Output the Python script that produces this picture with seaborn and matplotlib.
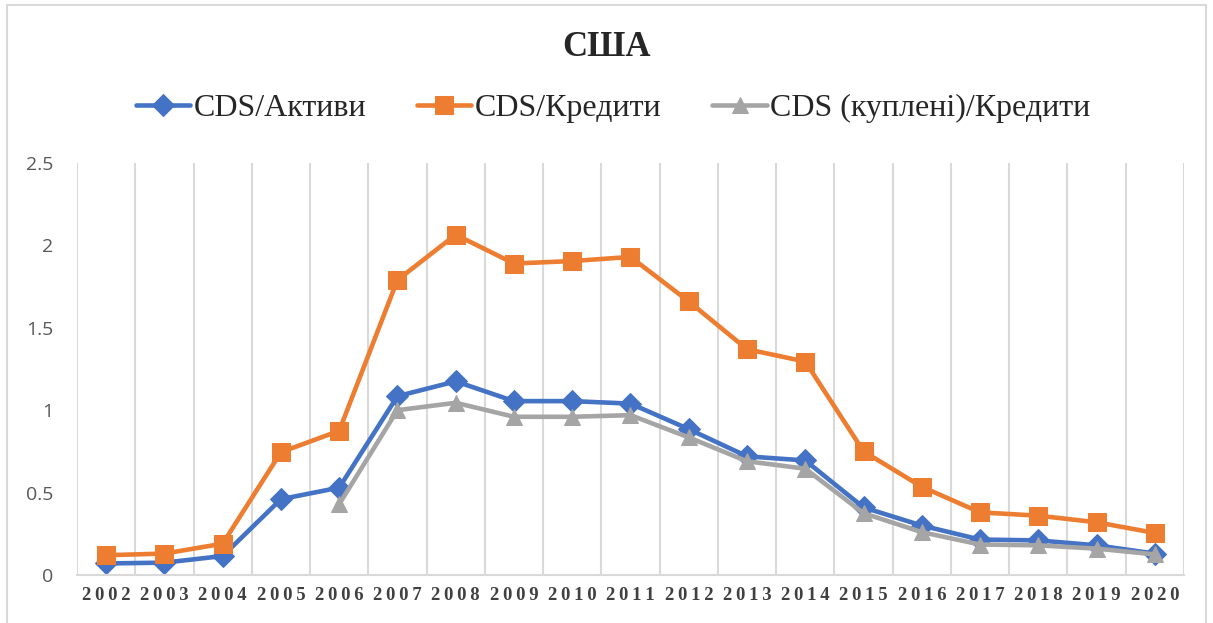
import matplotlib.pyplot as plt
import matplotlib.patches as mpatches
import numpy as np
import pandas as pd
import seaborn as sns

# Data
years = list(range(2002, 2021))
cds_assets = [0.07, 0.075, 0.115, 0.46, 0.53, 1.085, 1.175, 1.055, 1.055, 1.04,
              0.885, 0.72, 0.695, 0.41, 0.30, 0.215, 0.21, 0.18, 0.13]
cds_loans = [0.12, 0.13, 0.19, 0.745, 0.875, 1.79, 2.065, 1.89, 1.905, 1.93,
             1.66, 1.37, 1.295, 0.75, 0.535, 0.38, 0.36, 0.32, 0.255]
cds_bought_loans = [np.nan, np.nan, np.nan, np.nan, 0.43, 1.0, 1.045, 0.96, 0.96, 0.97,
                    0.835, 0.69, 0.645, 0.375, 0.26, 0.185, 0.18, 0.16, 0.125]
series_names = ["CDS/Активи", "CDS/Кредити", "CDS (куплені)/Кредити"]
year_labels = ["\u2009".join(str(y)) for y in years]
title = "США"

sns.set_style("white")
plt.rcParams["font.family"] = ["Liberation Serif", "DejaVu Serif"]

df = pd.DataFrame({"year": years,
                   series_names[0]: cds_assets,
                   series_names[1]: cds_loans,
                   series_names[2]: cds_bought_loans})

colors = ["#4472C4", "#ED7D31", "#A5A5A5"]
markers = ["D", "s", "^"]
sizes = [11, 12.5, 12]

fig = plt.figure(figsize=(12.13, 6.23), dpi=100)
ax = fig.add_axes([77 / 1213, 1 - 575 / 623, (1184 - 77) / 1213, (575 - 163) / 623])

for name, c, m, ms in zip(series_names, colors, markers, sizes):
    sns.lineplot(data=df, x="year", y=name, ax=ax, color=c, marker=m,
                 markersize=ms, markeredgecolor=c, linewidth=3.3, label=name)

ax.set_xlim(2001.5, 2020.5)
ax.set_ylim(0, 2.5)
ax.set_xticks(years)
ax.set_xticklabels(year_labels, fontweight="bold", fontsize=13.5, color="#404040")
ax.set_xticks(np.arange(2001.5, 2021, 1), minor=True)
ax.set_yticks([0, 0.5, 1, 1.5, 2, 2.5])
ax.set_yticklabels(["0", "0.5", "1", "1.5", "2", "2.5"], family="Open Sans",
                   fontsize=14, color="#595959")
ax.tick_params(axis="x", which="both", length=0, pad=9)
ax.tick_params(axis="y", length=0, pad=17)
ax.grid(False)
ax.grid(True, which="minor", axis="x", color="#D9D9D9", linewidth=1.5)
ax.set_xlabel("")
ax.set_ylabel("")
for s in ["top", "right", "left"]:
    ax.spines[s].set_visible(False)
ax.spines["bottom"].set_color("#D9D9D9")
ax.spines["bottom"].set_linewidth(1.5)

ax.legend_.remove()
handles, labels = ax.get_legend_handles_labels()
fig.legend(handles, labels, loc="center", bbox_to_anchor=(613 / 1213, 1 - 108 / 623),
           ncol=3, frameon=False, fontsize=23, handlelength=1.7,
           handletextpad=0.1, columnspacing=1.6)

fig.text(0.5, 1 - 48 / 623, title, ha="center", va="center",
         fontsize=25, fontweight="bold")

# outer chart frame
fig.patches.append(mpatches.Rectangle((7 / 1213, -0.01), 1199 / 1213, 1.01 - 5 / 623,
                                      transform=fig.transFigure, fill=False,
                                      edgecolor="#D9D9D9", linewidth=1.5))

fig.savefig("out.png", dpi=100)
